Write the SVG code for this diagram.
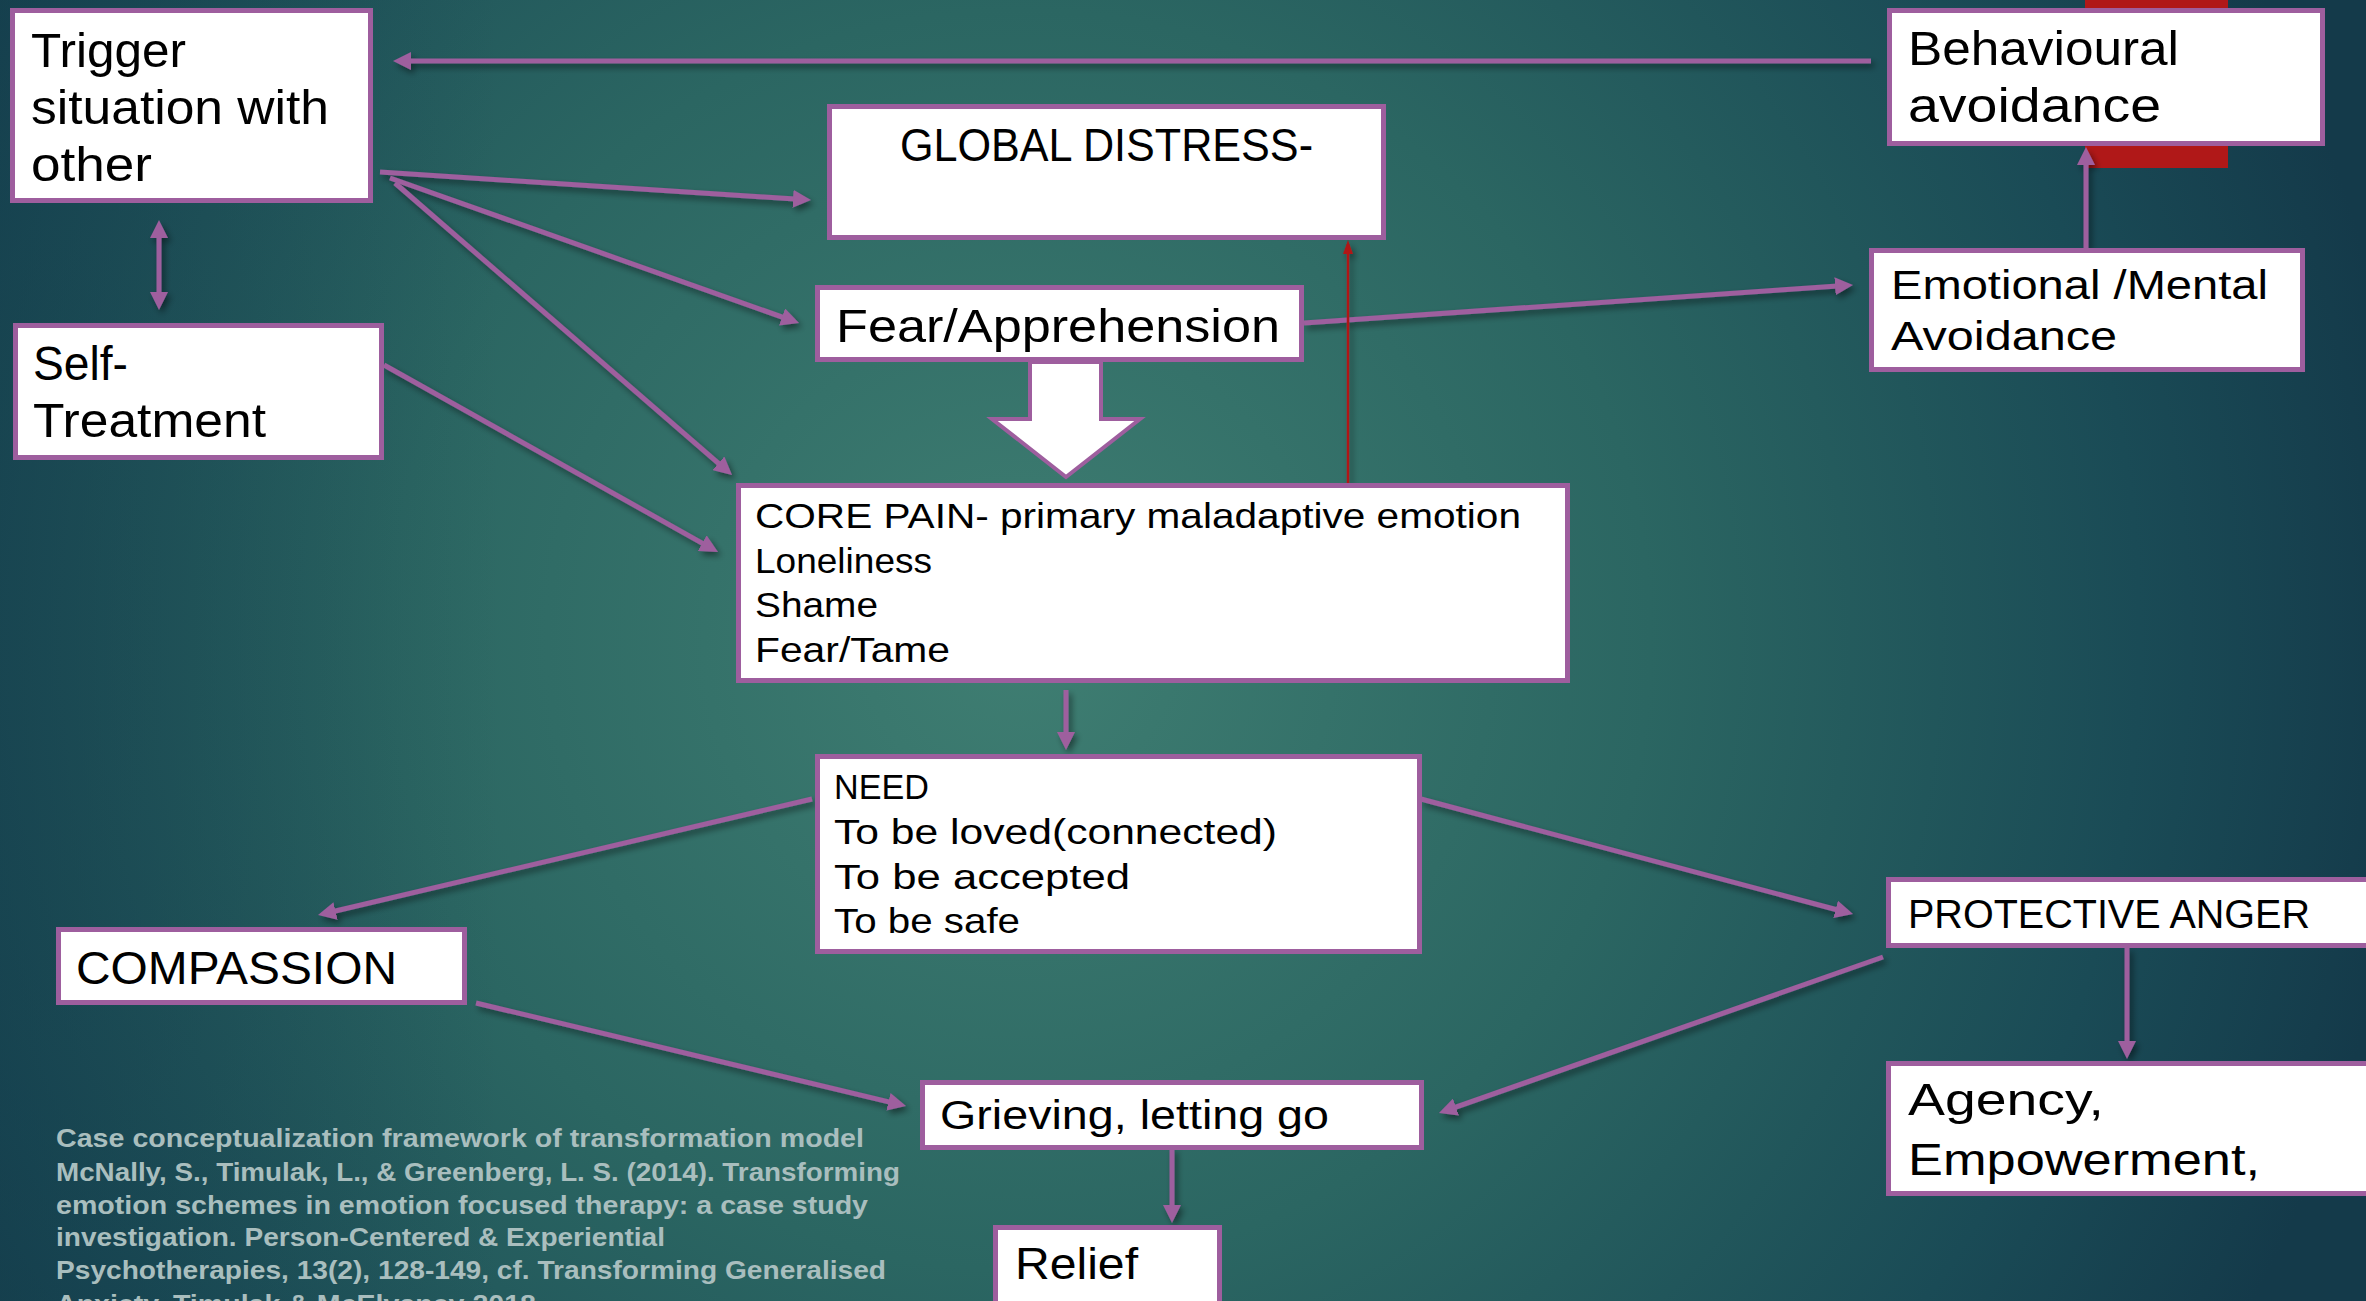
<svg xmlns="http://www.w3.org/2000/svg" width="2366" height="1301" viewBox="0 0 2366 1301">
  <defs>
    <radialGradient id="bg" cx="1020" cy="640" r="1400" gradientUnits="userSpaceOnUse">
      <stop offset="0" stop-color="#3f7e72"/>
      <stop offset="0.45" stop-color="#2b6662"/>
      <stop offset="0.8" stop-color="#1a4b56"/>
      <stop offset="1" stop-color="#143a4a"/>
    </radialGradient>
    <linearGradient id="leftshade" x1="0" y1="0" x2="1" y2="0">
      <stop offset="0" stop-color="#123848" stop-opacity="0.45"/>
      <stop offset="1" stop-color="#123848" stop-opacity="0"/>
    </linearGradient>
    <marker id="ah" viewBox="0 0 18 18" markerWidth="18" markerHeight="18" refX="10" refY="9" orient="auto-start-reverse" markerUnits="userSpaceOnUse">
      <path d="M0,0 L18,9 L0,18 z" fill="#9e5e9e"/>
    </marker>
    <marker id="ahr" viewBox="0 0 14 10" markerWidth="14" markerHeight="10" refX="4" refY="5" orient="auto" markerUnits="userSpaceOnUse">
      <path d="M0,0 L14,5 L0,10 z" fill="#b01818"/>
    </marker>
    <filter id="sh" x="-20%" y="-20%" width="140%" height="140%">
      <feDropShadow dx="3" dy="4" stdDeviation="3" flood-color="#000" flood-opacity="0.45"/>
    </filter>
  </defs>
  <style>
    .box { fill: #ffffff; stroke: #9e5e9e; stroke-width: 5; }
    .t { font-family: "Liberation Sans", Arial, sans-serif; fill: #000; }
    .c { fill: none; stroke: #9e5e9e; stroke-width: 5; marker-end: url(#ah); }
    .fn { font-family: "Liberation Sans", Arial, sans-serif; font-weight: bold; font-size: 26px; fill: #a9bebe; }
  </style>

  <rect x="0" y="0" width="2366" height="1301" fill="url(#bg)"/>
  <rect x="0" y="0" width="500" height="1301" fill="url(#leftshade)"/>

  <!-- red block behind Behavioural avoidance -->
  <rect id="red-block" x="2085" y="0" width="143" height="168" fill="#b01818"/>

  <g id="connectors" filter="url(#sh)">
    <line class="c" x1="1871" y1="61" x2="401" y2="61"/>
    <line class="c" x1="159" y1="228" x2="159" y2="302" marker-start="url(#ah)"/>
    <line class="c" x1="380" y1="172" x2="803" y2="199.5"/>
    <line class="c" x1="390" y1="178" x2="791.5" y2="320.3"/>
    <line class="c" x1="395" y1="183" x2="726" y2="469.8"/>
    <line class="c" x1="384" y1="365" x2="711" y2="548.1"/>
    <line class="c" x1="1304" y1="323" x2="1845" y2="285.5"/>
    <line class="c" x1="2086" y1="248" x2="2086" y2="155"/>
    <line class="c" x1="1066" y1="690" x2="1066" y2="742"/>
    <line class="c" x1="812" y1="799" x2="325.8" y2="913.2"/>
    <line class="c" x1="1421" y1="799" x2="1845.3" y2="912"/>
    <line class="c" x1="476" y1="1003" x2="898.2" y2="1104.1"/>
    <line class="c" x1="1883" y1="957" x2="1446.5" y2="1110.4"/>
    <line class="c" x1="1172" y1="1148" x2="1172" y2="1215"/>
    <line class="c" x1="2127" y1="948" x2="2127" y2="1051"/>
    <line x1="1348" y1="484" x2="1348" y2="250" stroke="#b01818" stroke-width="2.5" marker-end="url(#ahr)"/>
  </g>

  <g id="block-arrow">
    <polygon points="1030,362 1101,362 1101,419 1140,419 1066,477 992,419 1030,419" fill="#ffffff" stroke="#9e5e9e" stroke-width="4" stroke-linejoin="miter"/>
  </g>

  <g id="trigger">
    <rect class="box" x="12.5" y="10.5" width="358" height="190"/>
    <text class="t" font-size="48"><tspan x="31" y="67" textLength="155" lengthAdjust="spacingAndGlyphs">Trigger</tspan><tspan x="31" y="124" textLength="298" lengthAdjust="spacingAndGlyphs">situation with</tspan><tspan x="31" y="181" textLength="121" lengthAdjust="spacingAndGlyphs">other</tspan></text>
  </g>

  <g id="self-treatment">
    <rect class="box" x="15.5" y="325.5" width="366" height="132"/>
    <text class="t" font-size="48"><tspan x="33" y="380" textLength="95" lengthAdjust="spacingAndGlyphs">Self-</tspan><tspan x="33" y="437" textLength="233" lengthAdjust="spacingAndGlyphs">Treatment</tspan></text>
  </g>

  <g id="global-distress">
    <rect class="box" x="829.5" y="106.5" width="554" height="131"/>
    <text class="t" font-size="47" x="900" y="161" textLength="413" lengthAdjust="spacingAndGlyphs">GLOBAL DISTRESS-</text>
  </g>

  <g id="fear-apprehension">
    <rect class="box" x="817.5" y="287.5" width="484" height="72"/>
    <text class="t" font-size="46" x="836" y="342" textLength="444" lengthAdjust="spacingAndGlyphs">Fear/Apprehension</text>
  </g>

  <g id="behavioural-avoidance">
    <rect class="box" x="1889.5" y="10.5" width="433" height="133"/>
    <text class="t" font-size="48"><tspan x="1908" y="65" textLength="271" lengthAdjust="spacingAndGlyphs">Behavioural</tspan><tspan x="1908" y="122" textLength="253" lengthAdjust="spacingAndGlyphs">avoidance</tspan></text>
  </g>

  <g id="emotional-avoidance">
    <rect class="box" x="1871.5" y="250.5" width="431" height="119"/>
    <text class="t" font-size="40"><tspan x="1891" y="299" textLength="377" lengthAdjust="spacingAndGlyphs">Emotional /Mental</tspan><tspan x="1891" y="350" textLength="226" lengthAdjust="spacingAndGlyphs">Avoidance</tspan></text>
  </g>

  <g id="core-pain">
    <rect class="box" x="738.5" y="485.5" width="829" height="195"/>
    <text class="t" font-size="35"><tspan x="755" y="528" textLength="766" lengthAdjust="spacingAndGlyphs">CORE PAIN- primary maladaptive emotion</tspan><tspan x="755" y="573" textLength="177" lengthAdjust="spacingAndGlyphs">Loneliness</tspan><tspan x="755" y="617" textLength="123" lengthAdjust="spacingAndGlyphs">Shame</tspan><tspan x="755" y="662" textLength="195" lengthAdjust="spacingAndGlyphs">Fear/Tame</tspan></text>
  </g>

  <g id="need">
    <rect class="box" x="817.5" y="756.5" width="602" height="195"/>
    <text class="t" font-size="35"><tspan x="834" y="799" textLength="95" lengthAdjust="spacingAndGlyphs">NEED</tspan><tspan x="834" y="844" textLength="443" lengthAdjust="spacingAndGlyphs">To be loved(connected)</tspan><tspan x="834" y="889" textLength="296" lengthAdjust="spacingAndGlyphs">To be accepted</tspan><tspan x="834" y="933" textLength="186" lengthAdjust="spacingAndGlyphs">To be safe</tspan></text>
  </g>

  <g id="compassion">
    <rect class="box" x="58.5" y="929.5" width="406" height="73"/>
    <text class="t" font-size="47" x="76" y="984" textLength="321" lengthAdjust="spacingAndGlyphs">COMPASSION</text>
  </g>

  <g id="protective-anger">
    <rect class="box" x="1888.5" y="879.5" width="490" height="66"/>
    <text class="t" font-size="40" x="1908" y="928" textLength="402" lengthAdjust="spacingAndGlyphs">PROTECTIVE ANGER</text>
  </g>

  <g id="agency">
    <rect class="box" x="1888.5" y="1063.5" width="490" height="130"/>
    <text class="t" font-size="44"><tspan x="1908" y="1115" textLength="196" lengthAdjust="spacingAndGlyphs">Agency,</tspan><tspan x="1908" y="1175" textLength="352" lengthAdjust="spacingAndGlyphs">Empowerment,</tspan></text>
  </g>

  <g id="grieving">
    <rect class="box" x="922.5" y="1082.5" width="499" height="65"/>
    <text class="t" font-size="41" x="940" y="1129" textLength="389" lengthAdjust="spacingAndGlyphs">Grieving, letting go</text>
  </g>

  <g id="relief">
    <rect class="box" x="995.5" y="1227.5" width="224" height="100"/>
    <text class="t" font-size="44" x="1015" y="1279" textLength="123" lengthAdjust="spacingAndGlyphs">Relief</text>
  </g>

  <g id="footnote">
    <text class="fn"><tspan x="56" y="1147" textLength="808" lengthAdjust="spacingAndGlyphs">Case conceptualization framework of transformation model</tspan><tspan x="56" y="1181" textLength="844" lengthAdjust="spacingAndGlyphs">McNally, S., Timulak, L., &amp; Greenberg, L. S. (2014). Transforming</tspan><tspan x="56" y="1214" textLength="812" lengthAdjust="spacingAndGlyphs">emotion schemes in emotion focused therapy: a case study</tspan><tspan x="56" y="1246" textLength="609" lengthAdjust="spacingAndGlyphs">investigation. Person-Centered &amp; Experiential</tspan><tspan x="56" y="1279" textLength="830" lengthAdjust="spacingAndGlyphs">Psychotherapies, 13(2), 128-149, cf. Transforming Generalised</tspan><tspan x="56" y="1313" textLength="480" lengthAdjust="spacingAndGlyphs">Anxiety, Timulak &amp; McElvaney 2018</tspan></text>
  </g>
</svg>
